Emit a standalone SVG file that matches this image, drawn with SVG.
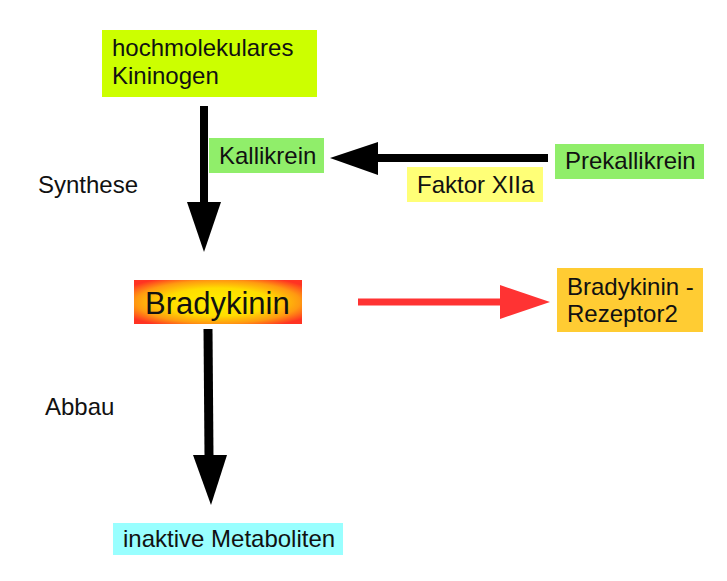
<svg xmlns="http://www.w3.org/2000/svg" width="727" height="581" viewBox="0 0 727 581">
<style>
text{font-family:"Liberation Sans",Arial,sans-serif;font-size:24px;fill:#111}
.big{font-size:31px}
</style>
<defs>
<radialGradient id="bg" cx="50%" cy="50%" r="70%">
<stop offset="0" stop-color="#ffee00"/>
<stop offset="0.45" stop-color="#ffdd00"/>
<stop offset="0.7" stop-color="#ff9911"/>
<stop offset="0.9" stop-color="#ff3322"/>
</radialGradient>
</defs>
<rect width="727" height="581" fill="#fff"/>
<g id="connectors">
<line x1="204" y1="106" x2="204" y2="204" stroke="#000" stroke-width="8"/>
<polygon points="187,202 221,202 204,252" fill="#000"/>
<line x1="548" y1="158" x2="376" y2="158" stroke="#000" stroke-width="8"/>
<polygon points="378,142 378,175 330,158" fill="#000"/>
<line x1="208" y1="329" x2="209" y2="457" stroke="#000" stroke-width="9"/>
<polygon points="193,455 227,455 211,505" fill="#000"/>
<line x1="358" y1="302" x2="502" y2="302" stroke="#ff3333" stroke-width="7"/>
<polygon points="500,285 500,319 550,302" fill="#ff3333"/>
</g>
<g id="kininogen">
<rect x="102" y="30" width="215" height="67" fill="#ccff00"/>
<text x="112" y="56">hochmolekulares</text>
<text x="112" y="84">Kininogen</text>
</g>
<g id="kallikrein">
<rect x="209" y="138" width="115" height="35" fill="#90ee6a"/>
<text x="219" y="164">Kallikrein</text>
</g>
<g id="prekallikrein">
<rect x="555" y="144" width="149" height="35" fill="#90ee6a"/>
<text x="565" y="169">Prekallikrein</text>
</g>
<g id="faktor">
<rect x="407" y="167" width="136" height="35" fill="#ffff77"/>
<text x="417" y="193">Faktor XIIa</text>
</g>
<g id="synthese">
<text x="38" y="193">Synthese</text>
</g>
<g id="bradykinin">
<rect x="134" y="280" width="168" height="44" fill="url(#bg)"/>
<text class="big" x="145" y="314">Bradykinin</text>
</g>
<g id="rezeptor">
<rect x="557" y="268" width="146" height="64" fill="#ffcc33"/>
<text x="567" y="295">Bradykinin -</text>
<text x="567" y="322">Rezeptor2</text>
</g>
<g id="abbau">
<text x="45" y="415">Abbau</text>
</g>
<g id="metaboliten">
<rect x="113" y="523" width="230" height="32" fill="#99ffff"/>
<text x="123" y="547">inaktive Metaboliten</text>
</g>
</svg>
